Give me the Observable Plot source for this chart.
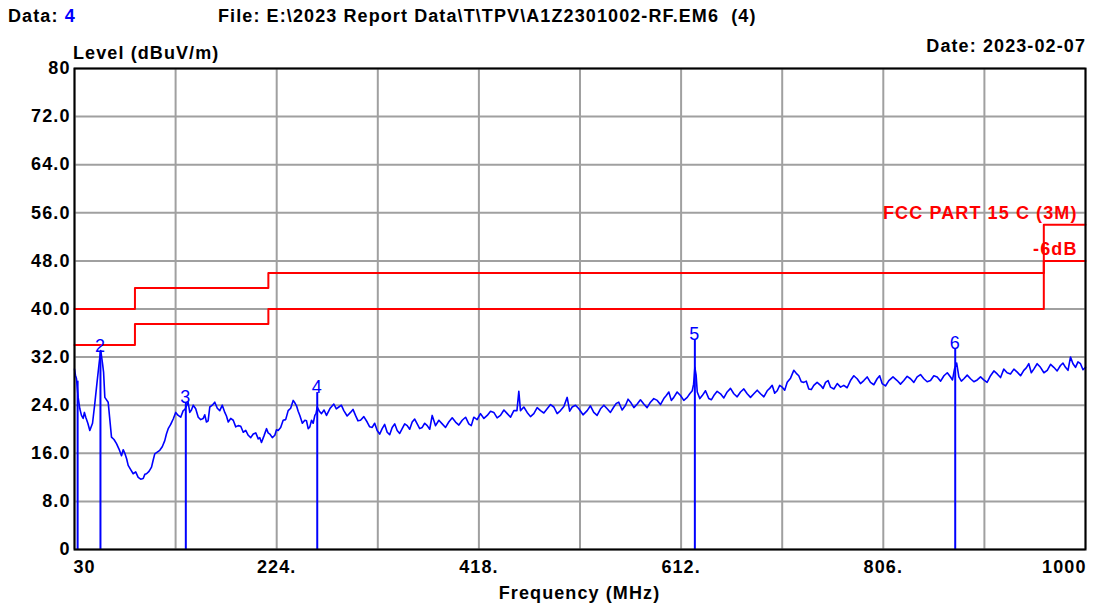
<!DOCTYPE html>
<html>
<head>
<meta charset="utf-8">
<script src="https://cdn.jsdelivr.net/npm/d3@7"></script>
<script src="https://cdn.jsdelivr.net/npm/@observablehq/plot@0.6"></script>
<style>
  html, body { margin: 0; padding: 0; background: #fff; }
  #wrap { position: relative; width: 1105px; height: 608px; overflow: hidden; font-family: "Liberation Sans", Arial, sans-serif; font-weight: bold; font-size: 18px; letter-spacing: 1.1px; color: #000; }
  .t { position: absolute; line-height: 18px; white-space: pre; }
  #chart { position: absolute; left: 0; top: 0; }
</style>
</head>
<body>
<div id="wrap">
  <div id="chart"></div>
  <div class="t" style="left:8px; top:7px;">Data: <span style="color:#0000ff">4</span></div>
  <div class="t" style="left:218px; top:7px;">File: E:\2023 Report Data\T\TPV\A1Z2301002-RF.EM6  (4)</div>
  <div class="t" style="left:73px; top:44px;">Level (dBuV/m)</div>
  <div class="t" style="right:19px; top:37px;">Date: 2023-02-07</div>
  <div class="t" style="left:0; width:1159px; text-align:center; top:584px;">Frequency (MHz)</div>
</div>
<script>
// Measured trace readings: [frequency MHz, level dBuV/m]
const traceReadings = [
[30.0,30.0],[30.9,29.0],[31.9,28.4],[33.5,25.3],[35.1,23.4],[36.7,22.3],[38.3,21.8],[39.5,22.8],[40.8,22.0],[42.8,21.0],
[44.7,19.8],[47.3,21.0],[49.5,24.3],[51.8,28.1],[54.3,32.0],[55.2,33.1],[56.9,30.9],[57.9,29.5],[59.1,25.3],[62.3,24.5],
[65.5,18.7],[67.9,18.3],[70.3,17.6],[72.7,16.7],[75.1,15.6],[76.7,16.6],[78.3,16.0],[80.0,15.1],[81.5,14.0],[83.9,13.3],
[86.3,12.6],[88.7,12.9],[91.1,12.0],[93.5,11.7],[95.9,11.8],[97.5,12.5],[99.1,12.6],[101.5,13.0],[103.9,13.7],[105.4,14.8],
[107.0,15.9],[109.4,16.2],[111.8,16.5],[114.2,17.1],[116.6,18.1],[118.2,19.2],[119.9,20.1],[122.3,20.8],[124.7,21.7],[127.1,22.8],
[129.5,22.3],[131.9,22.0],[134.3,23.1],[136.0,23.3],[137.5,23.9],[139.0,24.5],[140.6,22.8],[142.2,23.2],[143.9,24.0],[146.3,23.4],
[148.7,22.0],[151.1,21.6],[153.5,21.8],[155.0,22.4],[156.6,21.2],[158.2,21.4],[159.8,23.7],[162.2,24.0],[164.6,24.5],[167.0,23.5],
[169.4,23.1],[171.8,24.0],[174.2,22.8],[175.8,22.2],[177.5,21.2],[179.9,21.8],[182.3,21.5],[184.7,20.4],[187.1,20.6],[189.5,20.5],
[191.9,19.5],[194.3,19.8],[196.7,19.0],[199.1,18.6],[201.5,19.2],[203.9,19.4],[206.3,18.4],[207.8,18.6],[209.4,17.8],[211.8,18.9],
[214.2,20.1],[215.8,19.4],[217.4,19.2],[219.8,18.6],[222.2,19.0],[223.8,19.9],[225.4,19.8],[227.8,20.3],[230.2,21.5],[232.6,21.6],
[235.0,23.1],[237.4,23.5],[239.8,24.8],[241.4,24.4],[243.0,23.9],[244.6,23.0],[246.2,22.3],[248.6,21.0],[251.0,21.5],[252.6,21.4],
[254.2,20.1],[255.8,20.4],[257.4,21.5],[259.0,21.0],[260.6,22.3],[261.7,22.6],[262.9,23.7],[264.9,23.0],[267.0,22.6],[269.4,23.2],
[271.8,22.3],[275.3,23.5],[278.8,24.2],[281.2,23.4],[283.6,23.7],[286.0,24.0],[288.4,23.1],[291.6,22.2],[294.8,22.8],[297.2,23.3],
[299.6,22.3],[302.0,21.4],[304.4,21.5],[307.6,22.1],[310.8,21.2],[313.2,20.4],[315.6,20.3],[318.0,21.0],[320.4,19.8],[322.8,19.2],
[325.2,20.1],[327.6,20.8],[330.0,19.5],[332.4,19.1],[334.8,20.3],[337.2,20.9],[339.6,19.8],[342.0,19.3],[344.4,20.1],[346.8,20.9],
[349.2,20.6],[351.6,20.0],[354.0,21.2],[356.4,21.7],[358.8,20.9],[361.2,20.1],[363.6,20.3],[366.0,21.0],[368.4,20.6],[370.8,20.0],
[373.2,22.3],[376.4,20.6],[379.6,21.5],[382.8,20.9],[386.0,20.3],[389.1,21.2],[392.4,21.9],[395.6,21.2],[398.8,20.7],[402.0,21.5],
[405.2,22.0],[408.3,20.9],[410.7,20.6],[413.1,22.0],[416.3,21.6],[419.5,22.6],[422.8,21.8],[426.0,22.3],[429.2,23.0],[432.3,22.8],
[435.5,21.9],[438.7,22.3],[442.0,23.2],[445.2,22.6],[448.4,22.0],[451.5,23.1],[454.5,23.1],[456.3,26.3],[457.9,23.1],[461.1,23.7],
[464.3,22.8],[467.5,22.1],[470.7,22.6],[473.9,23.6],[477.1,23.1],[480.3,22.7],[483.5,23.4],[486.7,24.1],[489.9,23.7],[493.1,22.6],
[496.3,23.1],[499.5,23.8],[502.7,25.3],[505.1,23.0],[507.5,23.7],[510.7,24.0],[513.9,23.4],[517.9,22.4],[521.9,23.1],[525.0,23.9],
[528.2,22.8],[531.4,22.3],[534.7,23.4],[537.9,24.0],[541.1,23.4],[544.2,22.8],[547.4,23.7],[549.8,24.3],[552.2,24.5],[555.4,23.2],
[558.7,24.0],[561.1,25.0],[563.5,24.5],[566.7,23.6],[569.9,24.2],[573.0,24.9],[576.2,24.2],[579.4,23.6],[582.6,24.5],[585.8,25.1],
[589.1,24.8],[592.2,24.1],[595.4,25.1],[597.8,25.6],[600.2,26.2],[602.6,24.8],[605.0,25.3],[608.2,26.2],[611.4,25.6],[614.6,24.8],
[617.9,25.3],[620.3,25.9],[622.7,26.4],[624.0,27.5],[625.2,30.3],[626.4,29.0],[627.5,26.2],[630.0,25.1],[632.3,25.6],[635.4,26.4],
[638.6,25.1],[641.0,24.9],[643.4,25.6],[646.6,26.3],[649.8,25.9],[653.0,25.2],[656.2,26.2],[659.4,26.8],[662.6,25.9],[665.8,25.4],
[669.0,26.2],[672.2,26.7],[675.4,25.9],[678.6,25.3],[681.8,25.9],[685.0,26.5],[688.2,25.9],[691.4,25.4],[694.6,26.4],[697.0,26.8],
[699.4,27.3],[701.8,26.0],[704.2,26.4],[706.6,27.3],[709.0,27.0],[711.4,26.5],[713.8,27.8],[717.0,28.5],[720.1,29.8],[722.5,29.3],
[724.9,28.9],[727.3,27.9],[729.7,27.8],[732.1,28.0],[734.5,26.7],[736.9,26.6],[739.3,27.3],[742.5,27.8],[745.8,27.3],[748.2,26.8],
[750.6,27.8],[753.0,28.1],[755.4,27.0],[758.6,26.7],[761.8,27.6],[765.0,27.0],[768.1,27.3],[771.3,26.9],[774.5,28.1],[777.7,28.9],
[780.9,28.4],[784.1,27.6],[787.3,28.1],[790.5,28.7],[793.7,27.8],[796.9,27.4],[800.1,28.4],[802.5,28.9],[804.9,27.6],[808.1,27.2],
[811.3,28.1],[815.3,28.7],[819.3,28.1],[822.5,27.5],[825.7,28.1],[828.9,28.8],[832.1,28.4],[835.3,27.8],[838.5,28.7],[841.7,29.1],
[844.9,28.4],[848.1,27.9],[851.3,28.1],[854.5,28.9],[857.7,28.7],[861.0,28.0],[864.2,28.9],[867.4,29.4],[870.5,28.7],[872.4,28.2],
[874.3,30.0],[876.4,31.0],[878.5,28.7],[880.9,28.0],[883.3,28.4],[886.5,29.0],[889.7,28.4],[892.9,27.9],[896.1,28.2],[899.3,28.7],
[902.4,28.2],[905.6,27.8],[908.9,28.9],[912.1,29.7],[915.3,29.2],[918.5,28.6],[921.6,30.0],[924.8,29.4],[928.0,29.2],[931.3,30.0],
[934.5,29.5],[937.7,28.9],[940.8,29.8],[943.2,30.2],[945.6,30.9],[948.0,29.4],[950.4,30.0],[953.6,30.9],[956.8,30.3],[960.1,29.4],
[963.3,29.8],[966.5,30.8],[969.6,30.3],[972.8,29.7],[976.0,30.6],[978.4,31.0],[980.8,30.3],[983.2,29.8],[985.6,32.0],[988.0,30.9],
[990.4,30.3],[992.8,31.2],[995.2,30.9],[997.6,29.9],[1000.0,30.3]
];

// Limit lines (FCC Part 15 C, 3 m) and -6 dB margin
const limitFreq   = [30, 88, 88, 216, 216, 960, 960, 1000];
const limitLevel  = [40, 40, 43.5, 43.5, 46, 46, 54, 54];
const marginLevel = [34, 34, 37.5, 37.5, 40, 40, 48, 48];
const limitText = ["FCC PART 15 C (3M)", "-6dB"];
const limitTextLevel = [54, 48];

// Peak markers
const markerNo    = ["1", "2", "3", "4", "5", "6"];
const markerFreq  = [33.0, 54.9, 136.8, 262.9, 625.2, 875.0];
const markerLevel = [28.0, 32.8, 24.3, 26.1, 34.8, 33.4];
const markerShown = [false, true, true, true, true, true];

// Axis ticks
const xGrid = [30, 127, 224, 321, 418, 515, 612, 709, 806, 903, 1000];
const xTickStart = [30], xTickMid = [224, 418, 612, 806], xTickEnd = [1000];
const yTicks = [0, 8, 16, 24, 32, 40, 48, 56, 64, 72, 80];

const trace = traceReadings.map(([f, v]) => ({f, v}));
const limit = limitFreq.map((f, i) => ({f, v: limitLevel[i], m: marginLevel[i]}));
const markers = markerNo.map((n, i) => ({n, f: markerFreq[i], v: markerLevel[i], show: markerShown[i]}));
const limLabels = limitText.map((t, i) => ({t, f: 1000, v: limitTextLevel[i]}));

const xFmt = d => (d === 30 || d === 1000) ? String(d) : d + ".";
const yFmt = d => (d === 0 || d === 80) ? String(d) : d.toFixed(1);
const font = {fontFamily: "Liberation Sans", fontWeight: "bold", fontSize: 18};

const plot = Plot.plot({
  width: 1105, height: 608,
  marginLeft: 74, marginRight: 20, marginTop: 68, marginBottom: 59,
  style: {fontFamily: "Liberation Sans", fontSize: "18px", fontWeight: "bold", letterSpacing: "1.1px", background: "#fff", overflow: "visible"},
  x: {domain: [30, 1000], axis: null},
  y: {domain: [0, 80], axis: null},
  marks: [
    Plot.gridX(xGrid, {stroke: "#a0a0a0", strokeOpacity: 1, strokeWidth: 2}),
    Plot.gridY(yTicks, {stroke: "#a0a0a0", strokeOpacity: 1, strokeWidth: 2}),
    Plot.line(limit, {x: "f", y: "v", stroke: "#ff0000", strokeWidth: 2}),
    Plot.line(limit, {x: "f", y: "m", stroke: "#ff0000", strokeWidth: 2}),
    Plot.text(limLabels, {x: "f", y: "v", text: "t", textAnchor: "end", lineAnchor: "bottom", dx: -8, dy: -6, fill: "#ff0000", ...font}),
    Plot.ruleX(markers, {x: "f", y1: 0, y2: "v", stroke: "#0000ff", strokeWidth: 2}),
    Plot.line(trace, {x: "f", y: "v", stroke: "#0000ff", strokeWidth: 1.6}),
    Plot.text(markers.filter(d => d.show), {x: "f", y: "v", text: "n", lineAnchor: "bottom", dy: 0, fill: "#0000ff", fontFamily: "Liberation Sans", fontWeight: "normal", fontSize: 18, letterSpacing: 0}),
    Plot.frame({stroke: "#000", strokeWidth: 2}),
    Plot.axisY(yTicks, {tickSize: 0, tickPadding: 4, tickFormat: yFmt, label: null, fill: "#000", ...font}),
    Plot.axisX(xTickStart, {tickSize: 0, tickPadding: 11, tickFormat: xFmt, label: null, textAnchor: "start", dx: -1, fill: "#000", ...font}),
    Plot.axisX(xTickMid, {tickSize: 0, tickPadding: 11, tickFormat: xFmt, label: null, fill: "#000", ...font}),
    Plot.axisX(xTickEnd, {tickSize: 0, tickPadding: 11, tickFormat: xFmt, label: null, textAnchor: "end", dx: 1, fill: "#000", ...font})
  ]
});
document.getElementById("chart").appendChild(plot);
</script>
</body>
</html>
